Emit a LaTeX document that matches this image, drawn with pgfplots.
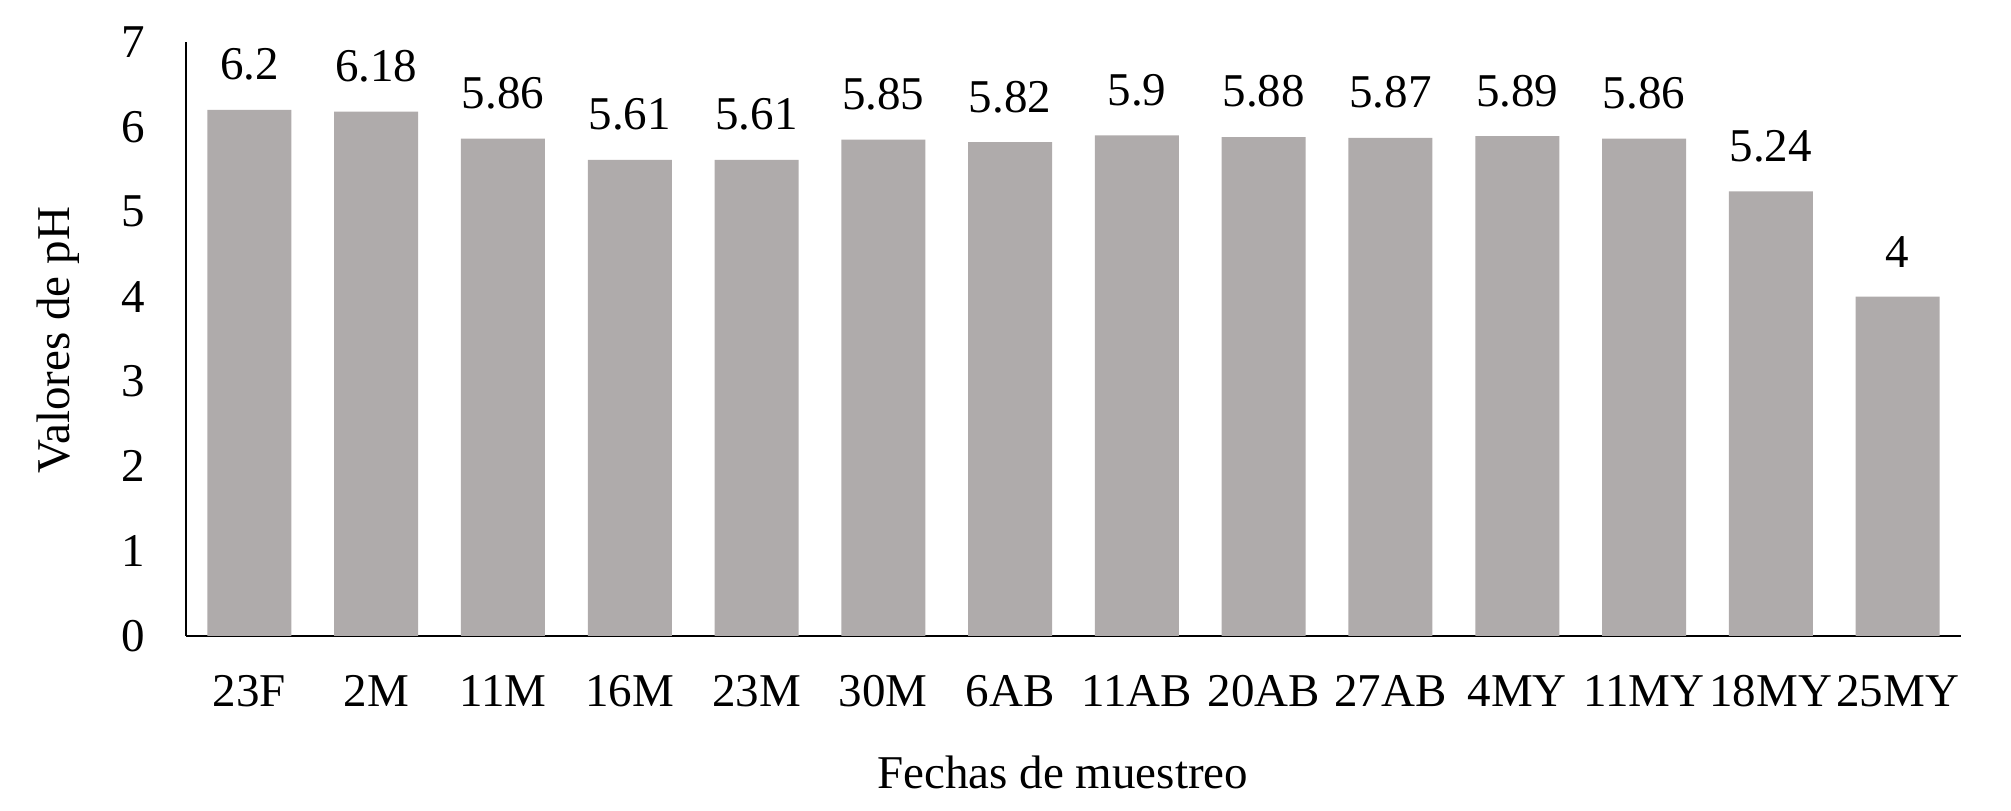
\documentclass[border=0pt]{standalone}
\usepackage{pgfplots}
\pgfplotsset{compat=1.18}
\usepackage{fontspec}
\setmainfont{Liberation Serif}
\definecolor{bargray}{RGB}{175,171,171}
\begin{document}
\begin{tikzpicture}
\begin{axis}[
  name=ax,
  scale only axis,
  width=887.5pt, height=297pt,
  font=\fontsize{23.5}{28}\selectfont,
  /pgf/number format/assume math mode=true,
  ybar, bar width=42pt,
  xmin=-0.5, xmax=13.5,
  ymin=0, ymax=7,
  ytick={0,1,...,7},
  yticklabel={\pgfmathprintnumber{\tick}},
  xtick=data,
  xticklabels={23F,2M,11M,16M,23M,30M,6AB,11AB,20AB,27AB,4MY,11MY,18MY,25MY},
  major tick length=0pt,
  axis x line*=bottom, axis y line*=left,
  axis line style={line width=0.8pt, -},
  xticklabel style={anchor=north, inner sep=0pt, yshift=-19.5pt},
  yticklabel style={anchor=east, inner sep=0pt, xshift=-20.5pt},
  xlabel={Fechas de muestreo},
  ylabel={Valores de pH},
  xlabel style={at={(axis description cs:0.494,-0.229)}, anchor=center},
  ylabel style={at={(axis description cs:-0.0721,0.498)}, anchor=center, rotate=0},
  nodes near coords={\pgfmathprintnumber{\pgfplotspointmeta}},
  every node near coord/.append style={anchor=south, inner sep=0pt, yshift=14.5pt, font=\fontsize{23.5}{28}\selectfont},
]
\addplot[fill=bargray, draw=none] coordinates {
(0,6.2) (1,6.18) (2,5.86) (3,5.61) (4,5.61) (5,5.85) (6,5.82)
(7,5.9) (8,5.88) (9,5.87) (10,5.89) (11,5.86) (12,5.24) (13,4)
};
\end{axis}
\pgfresetboundingbox
\path ([xshift=-93pt,yshift=-87.5pt]ax.south west) rectangle ([xshift=25pt,yshift=21pt]ax.north east);
\end{tikzpicture}
\end{document}
